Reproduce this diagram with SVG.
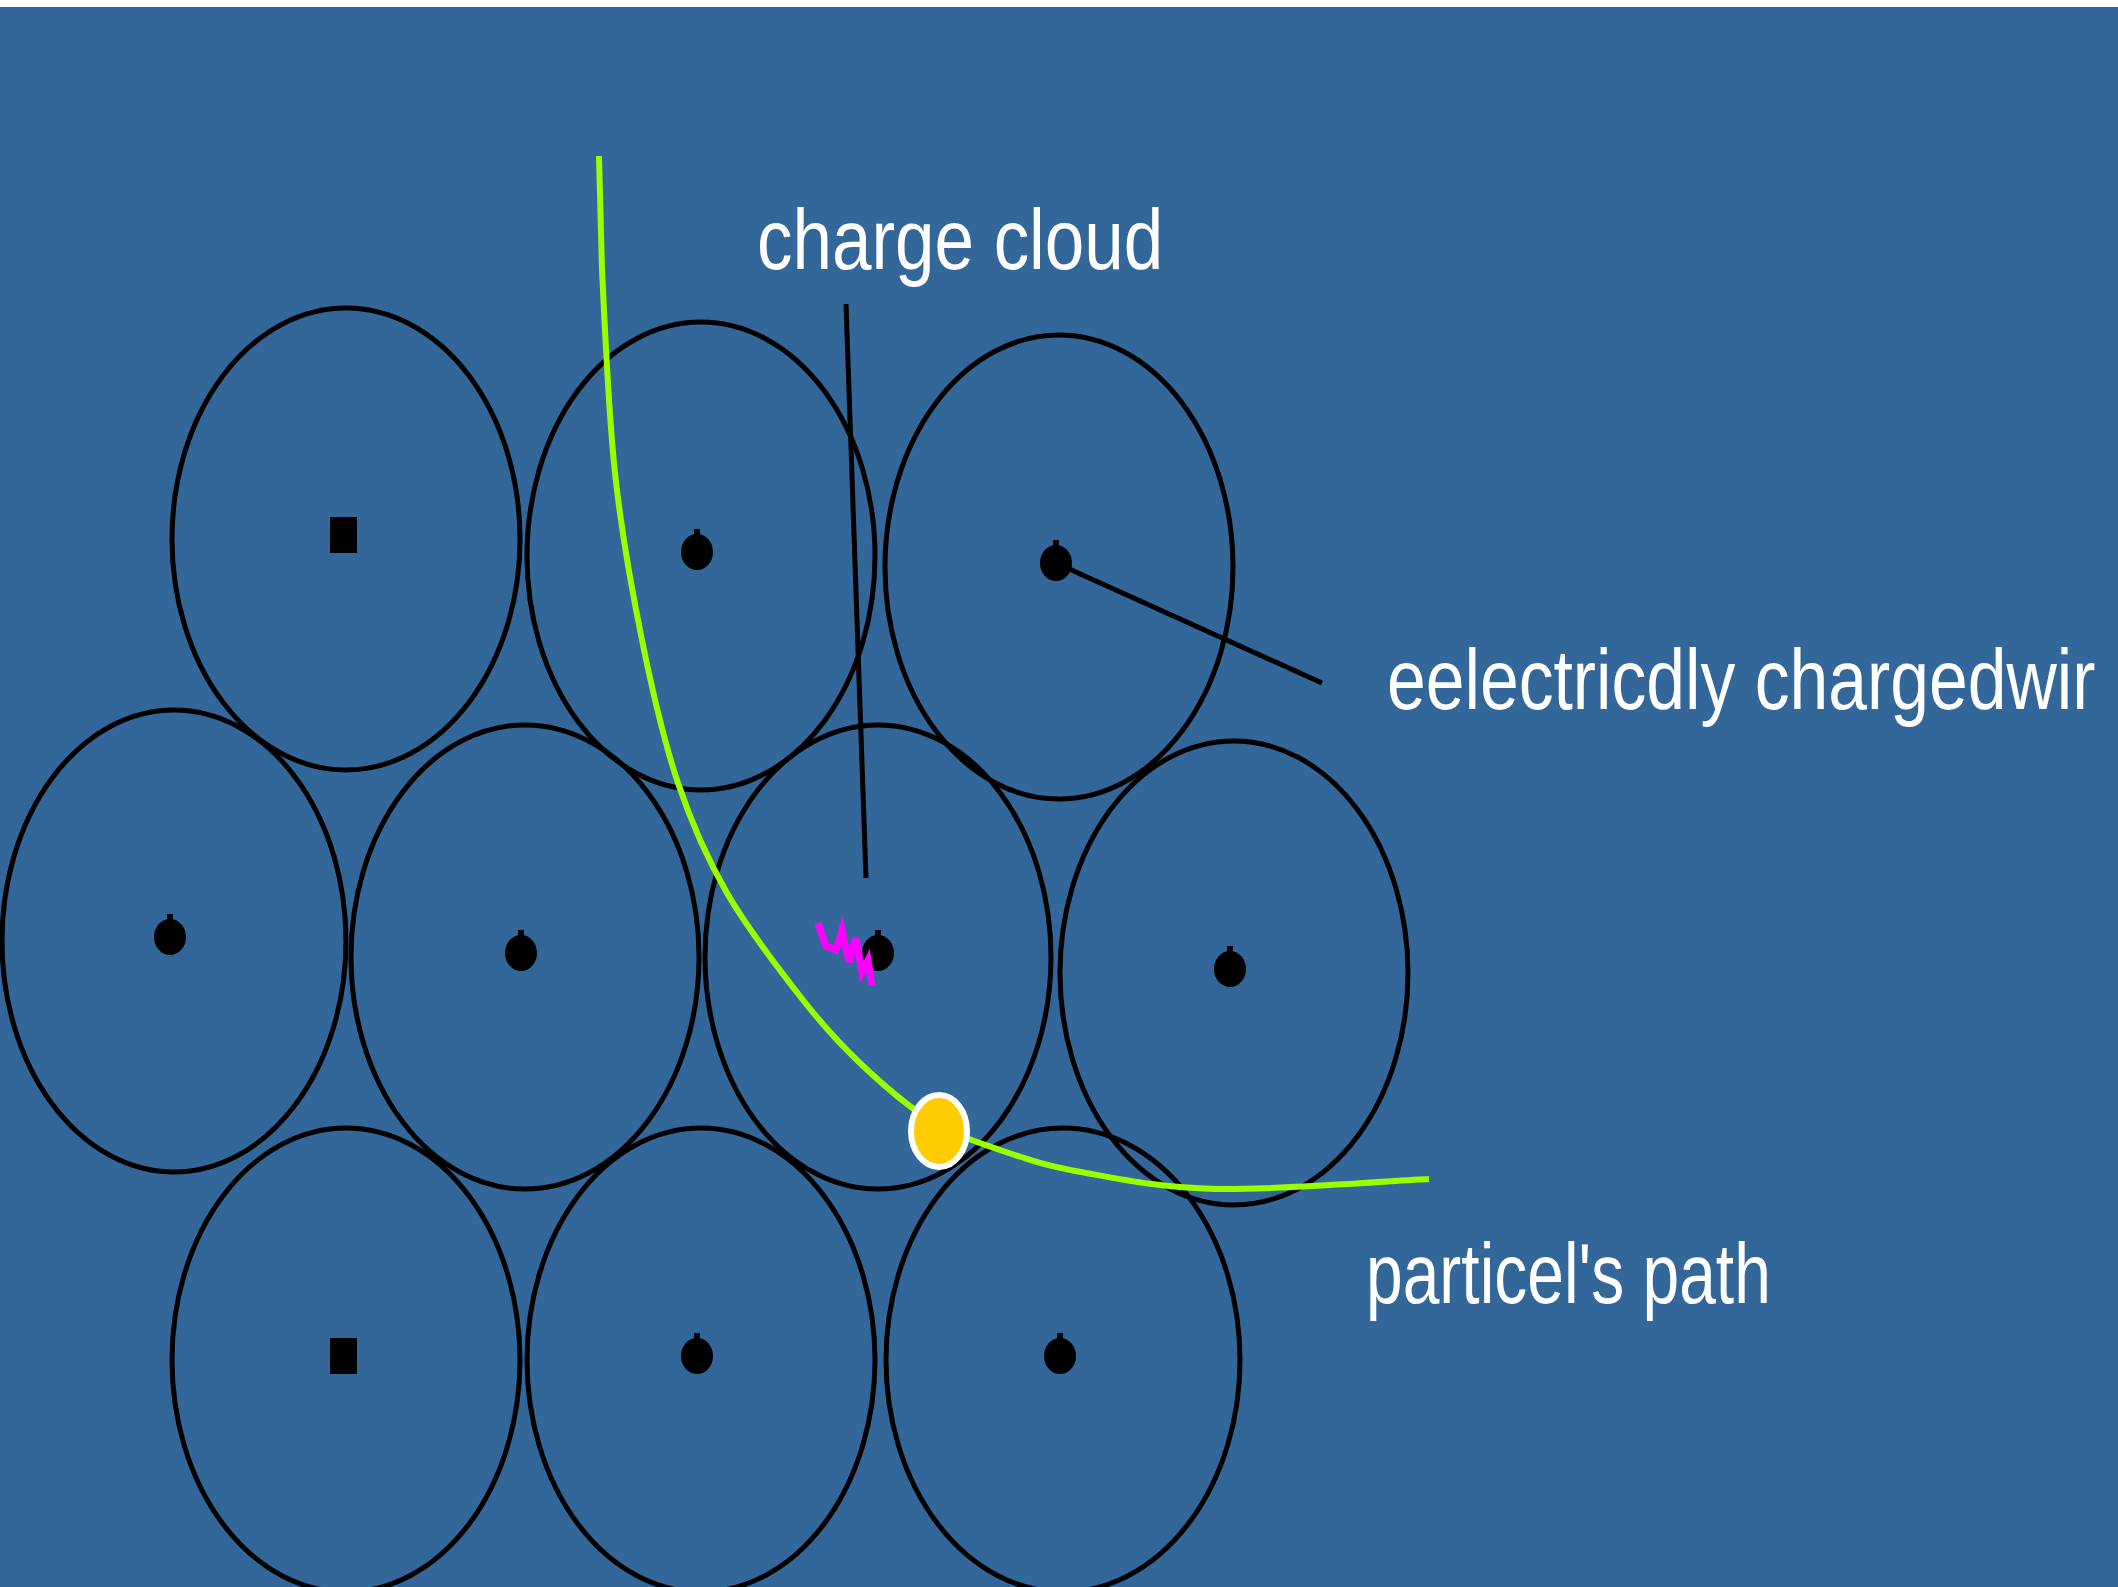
<svg xmlns="http://www.w3.org/2000/svg" width="2118" height="1587" viewBox="0 0 2118 1587">
  <style>
    .cell { fill: none; stroke: #000; stroke-width: 5; }
    .wire { fill: #000; }
    .lead { fill: none; stroke: #000; stroke-width: 5; stroke-linecap: butt; }
    .track { fill: none; stroke: #99ff00; stroke-width: 6; stroke-linecap: butt; stroke-linejoin: round; }
    .spark { fill: none; stroke: #ff00ff; stroke-width: 7; stroke-linejoin: miter; }
    .label { fill: #fff; font-family: "Liberation Sans", Arial, sans-serif; font-size: 86px; }
  </style>
  <defs>
    <!-- round wire cross-section with a small nub on top -->
    <g id="wire-dot">
      <ellipse cx="0" cy="0" rx="16" ry="18"/>
      <rect x="-3" y="-23" width="6" height="7"/>
    </g>
    <!-- square wire cross-section -->
    <rect id="wire-sq" x="-13.5" y="-18" width="27" height="36"/>
  </defs>

  <!-- background -->
  <rect x="0" y="0" width="2118" height="1587" fill="#fff"/>
  <rect x="0" y="7" width="2118" height="1580" fill="#336699"/>

  <!-- drift cells, each with its sense wire -->
  <g id="cell-1"><ellipse class="cell" cx="346" cy="539" rx="174" ry="231"/><use class="wire" href="#wire-sq" x="343.5" y="535"/></g>
  <g id="cell-2"><ellipse class="cell" cx="701" cy="556" rx="174" ry="234"/><use class="wire" href="#wire-dot" x="697" y="552"/></g>
  <g id="cell-3"><ellipse class="cell" cx="1059" cy="567" rx="174" ry="232"/><use class="wire" href="#wire-dot" x="1056" y="563"/></g>
  <g id="cell-4"><ellipse class="cell" cx="174" cy="941" rx="172" ry="231"/><use class="wire" href="#wire-dot" x="170" y="937"/></g>
  <g id="cell-5"><ellipse class="cell" cx="525" cy="957" rx="174" ry="232"/><use class="wire" href="#wire-dot" x="521" y="953"/></g>
  <g id="cell-6"><ellipse class="cell" cx="878" cy="957" rx="173" ry="232"/><use class="wire" href="#wire-dot" x="878" y="953"/></g>
  <g id="cell-7"><ellipse class="cell" cx="1234" cy="973" rx="174" ry="232"/><use class="wire" href="#wire-dot" x="1230" y="969"/></g>
  <g id="cell-8"><ellipse class="cell" cx="346" cy="1360" rx="174" ry="232"/><use class="wire" href="#wire-sq" x="343.5" y="1356"/></g>
  <g id="cell-9"><ellipse class="cell" cx="701" cy="1360" rx="174" ry="232"/><use class="wire" href="#wire-dot" x="697" y="1356"/></g>
  <g id="cell-10"><ellipse class="cell" cx="1063" cy="1360" rx="177" ry="232"/><use class="wire" href="#wire-dot" x="1060" y="1356"/></g>

  <!-- charge cloud drifting toward the central wire -->
  <g id="charge-cloud">
    <path class="spark" d="M818,923 L826,946 L836,950 L842,930 L849,962 L856,938 L862,972 L868,960 L872,985"/>
  </g>

  <!-- connectors: leader lines and the particle track -->
  <g id="connectors">
    <line class="lead" x1="846" y1="304" x2="866" y2="878"/>
    <line class="lead" x1="1056" y1="563" x2="1322" y2="683"/>
    <path class="track" d="M599,156 L602,270 C604.7,322.8 608.3,411.3 615,473 C621.7,534.7 631.5,588.3 642,640 C652.5,691.7 663.8,740.8 678,783 C692.2,825.2 706.2,856.8 727,893 C747.8,929.2 780.5,971.3 803,1000 C825.5,1028.7 840.8,1045 862,1065 C883.2,1085 907,1105.8 930,1120 C953,1134.2 974.8,1141.3 1000,1150 C1025.2,1158.7 1045,1165.5 1081,1172 C1117,1178.5 1158,1187.8 1216,1189 C1274,1190.2 1393.5,1180.7 1429,1179"/>
  </g>

  <!-- the particle -->
  <g id="particle">
    <ellipse cx="939" cy="1131" rx="28" ry="36" fill="#ffcc00" stroke="#fff" stroke-width="6"/>
  </g>

  <!-- labels, horizontally condensed -->
  <g id="labels">
    <text class="label" transform="translate(757,269) scale(0.825,1)">charge cloud</text>
    <text class="label" transform="translate(1387,709) scale(0.81,1)">eelectricdly chargedwir</text>
    <text class="label" transform="translate(1366,1303) scale(0.767,1)">particel's path</text>
  </g>
</svg>
